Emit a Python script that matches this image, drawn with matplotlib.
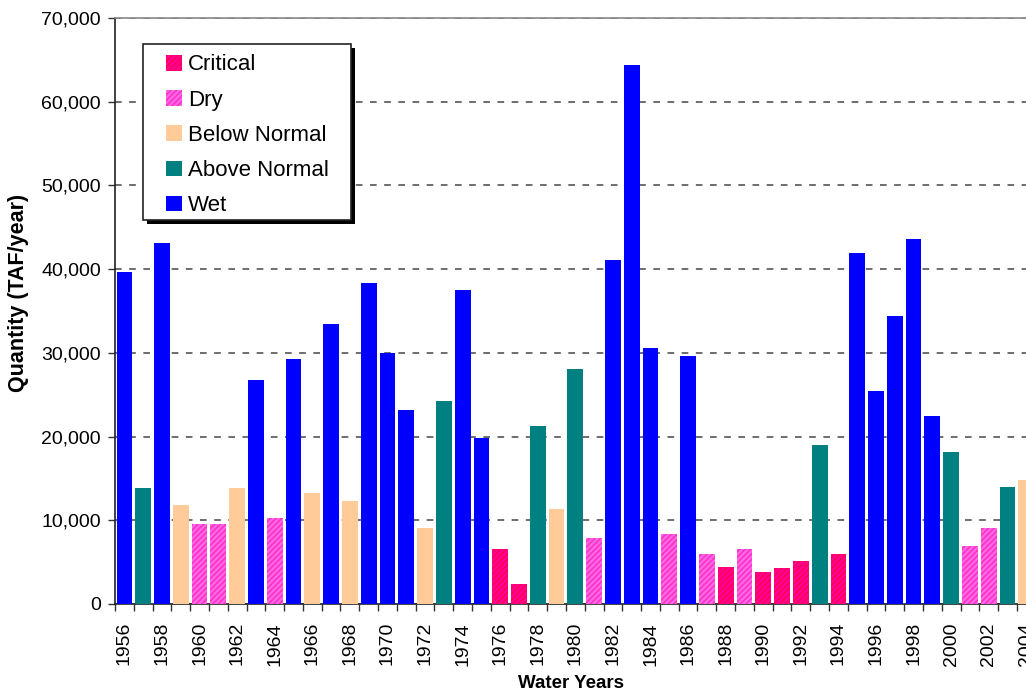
import matplotlib
matplotlib.use("Agg")
import matplotlib.pyplot as plt
import numpy as np
from matplotlib.patches import Patch, Rectangle
from matplotlib.ticker import FuncFormatter

plt.rcParams["font.family"] = ["Liberation Sans", "DejaVu Sans"]
plt.rcParams["hatch.linewidth"] = 1.2

# ── data ────────────────────────────────────────────────────────────────
years = list(range(1956, 2005))
quantity = [
    39700, 13900, 43150, 11850, 9570, 9570, 13900, 26700, 10300, 29300,
    13300, 33400, 12350, 38400, 30000, 23200, 9100, 24300, 37450, 19850,
    6600, 2400, 21300, 11350, 28100, 7900, 41050, 64350, 30600, 8400,
    29650, 6000, 4450, 6600, 3850, 4350, 5150, 19000, 6000, 41900,
    25500, 34350, 43550, 22500, 18200, 6950, 9100, 14000, 14850,
]
year_type = [
    "W", "AN", "W", "BN", "D", "D", "BN", "W", "D", "W",
    "BN", "W", "BN", "W", "W", "W", "BN", "AN", "W", "W",
    "C", "C", "AN", "BN", "AN", "D", "W", "W", "W", "D",
    "W", "D", "C", "D", "C", "C", "C", "AN", "C", "W",
    "W", "W", "W", "W", "AN", "D", "D", "AN", "BN",
]
type_order = ["C", "D", "BN", "AN", "W"]
type_names = {"C": "Critical", "D": "Dry", "BN": "Below Normal",
              "AN": "Above Normal", "W": "Wet"}

# face colour, hatch colour, hatch pattern
styles = {
    "C":  dict(facecolor="#FF0099", edgecolor="#FF0055", hatch="//////"),
    "D":  dict(facecolor="#FF66EE", edgecolor="#FF33BB", hatch="//////"),
    "BN": dict(facecolor="#FFCC99", edgecolor="#FFCC99", hatch=None),
    "AN": dict(facecolor="#008080", edgecolor="#008080", hatch=None),
    "W":  dict(facecolor="#0000FF", edgecolor="#0000FF", hatch=None),
}

# ── figure ──────────────────────────────────────────────────────────────
W, H = 1026, 691
fig = plt.figure(figsize=(W / 100, H / 100), dpi=100)
cat_w = 18.79
ax = fig.add_axes([115 / W, 87 / H, 49 * cat_w / W, 586 / H])

x = np.arange(len(years))
for t in type_order:
    idx = [i for i, yt in enumerate(year_type) if yt == t]
    ax.bar(x[idx], [quantity[i] for i in idx], width=0.84,
           linewidth=0, zorder=3, **styles[t])

ax.set_xlim(-0.5, len(years) - 0.5)
ax.set_ylim(0, 70000)

# gridlines
ax.set_yticks(np.arange(0, 70001, 10000))
ax.yaxis.set_major_formatter(FuncFormatter(lambda v, p: f"{int(v):,}"))
ax.grid(axis="y", color="#555555", linewidth=1.2,
        linestyle=(0, (4, 4.5)), zorder=1)

# category axis: ticks at boundaries, labels every other year
ax.set_xticks(np.arange(-0.5, len(years), 1))
ax.set_xticklabels([])
ax.set_xticks(x[::2], minor=True)
ax.set_xticklabels([str(y) for y in years[::2]], minor=True, rotation=90)
ax.tick_params(axis="x", which="major", direction="out", length=5,
               width=1, color="#333333")
ax.tick_params(axis="x", which="minor", length=0, pad=13, labelsize=14)
ax.tick_params(axis="y", direction="out", length=5, width=1,
               color="#333333", labelsize=14, pad=5)

for s in ["left", "bottom"]:
    ax.spines[s].set_color("#222222")
    ax.spines[s].set_linewidth(1.2)
ax.spines["top"].set_color("#888888")
ax.spines["top"].set_linewidth(1.2)
ax.spines["right"].set_visible(False)

fig.text(19 / W, 1 - 293 / H, "Quantity (TAF/year)", fontsize=15.5,
         fontweight="bold", rotation=90, ha="center", va="center")
fig.text(571 / W, 1 - 683 / H, "Water Years", fontsize=13.5,
         fontweight="bold", ha="center", va="center")

# legend box with a hard black shadow (drawn in figure pixels)
bx0, by0, bx1, by1 = 143, 44, 351, 220
fig.patches.append(Rectangle((bx0 + 4, H - by1 - 4), bx1 - bx0, by1 - by0,
                             transform=None, facecolor="black",
                             edgecolor="none", zorder=4))
fig.patches.append(Rectangle((bx0, H - by1), bx1 - bx0, by1 - by0,
                             transform=None, facecolor="white",
                             edgecolor="#222222", linewidth=1.2, zorder=4))

handles = [Patch(linewidth=0, label=type_names[t], **styles[t]) for t in type_order]
leg = fig.legend(handles=handles, loc="upper left",
                 bbox_to_anchor=(166 / W, 1 - 54.5 / H), borderaxespad=0,
                 fontsize=16, handlelength=0.7, handleheight=0.7,
                 handletextpad=0.3, labelspacing=0.64, borderpad=0,
                 frameon=False)
leg.set_zorder(6)

fig.savefig("out.png", dpi=100)
